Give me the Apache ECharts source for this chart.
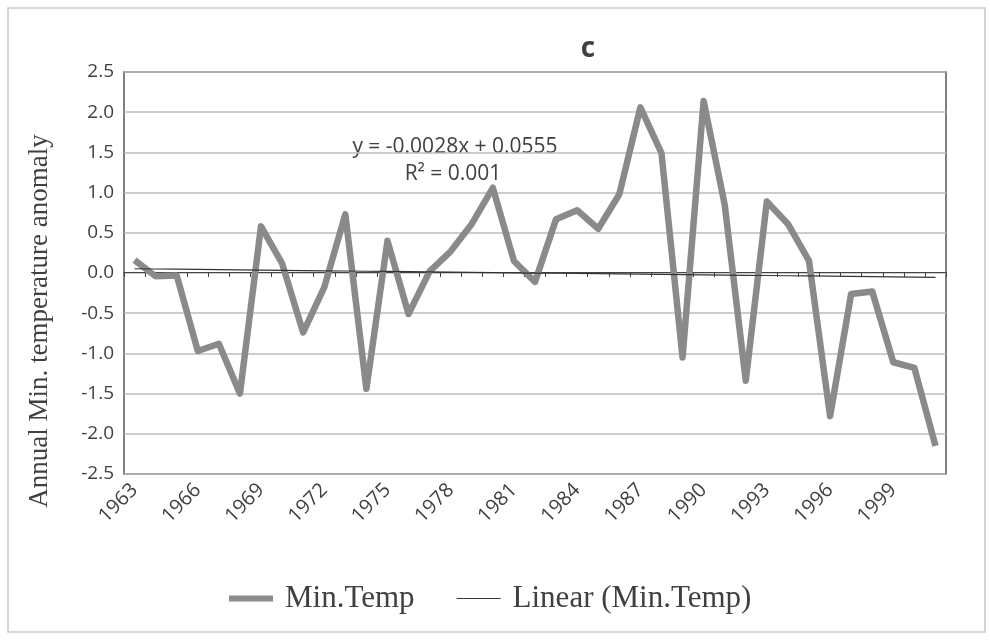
<!DOCTYPE html>
<html>
<head>
<meta charset="utf-8">
<script src="https://cdn.jsdelivr.net/npm/echarts@6/dist/echarts.min.js"></script>
<style>html,body{margin:0;padding:0;background:#fff;}#c{width:990px;height:640px;}</style>
</head>
<body>
<div id="c"></div>
<script>
const years = ['1963','1964','1965','1966','1967','1968','1969','1970','1971','1972','1973','1974','1975','1976','1977','1978','1979','1980','1981','1982','1983','1984','1985','1986','1987','1988','1989','1990','1991','1992','1993','1994','1995','1996','1997','1998','1999','2000','2001'];
const minTemp = [0.16,-0.04,-0.03,-0.97,-0.88,-1.50,0.58,0.12,-0.74,-0.18,0.73,-1.44,0.40,-0.51,0.02,0.27,0.61,1.06,0.15,-0.11,0.67,0.78,0.55,0.98,2.06,1.49,-1.05,2.14,0.85,-1.34,0.89,0.61,0.15,-1.78,-0.26,-0.23,-1.11,-1.18,-2.15];
const trendSlope = -0.0028;
const trendIntercept = 0.0555;
const trend = years.map((y, i) => +(trendSlope * (i + 1) + trendIntercept).toFixed(4));
const yTicks = { min: -2.5, max: 2.5, step: 0.5 };

const chart = echarts.init(document.getElementById('c'), null, { renderer: 'canvas' });
chart.setOption({
  backgroundColor: '#ffffff',
  animation: false,
  title: {
    text: 'c', left: 583, top: 30, textAlign: 'center',
    textStyle: { fontFamily: 'Open Sans', fontWeight: 'bold', fontSize: 28, color: '#404040' }
  },
  graphic: [
    { type: 'rect', shape: { x: 8, y: 8, width: 977, height: 624 }, style: { fill: 'none', stroke: '#c8c8c8', lineWidth: 1.5 }, silent: true },
    { type: 'text', style: { text: 'y = -0.0028x + 0.0555', x: 455, y: 147, textAlign: 'center', textVerticalAlign: 'middle', fill: '#404040', font: '21px "Open Sans"' } },
    { type: 'text', style: { text: 'R\u00B2 = 0.001', x: 453, y: 174, textAlign: 'center', textVerticalAlign: 'middle', fill: '#404040', font: '21px "Open Sans"' } },
    { type: 'text', x: 40, y: 321, rotation: Math.PI / 2, style: { text: 'Annual Min. temperature anomaly', x: 0, y: 0, textAlign: 'center', textVerticalAlign: 'middle', fill: '#404040', font: '27px "Liberation Serif"' } }
  ],
  grid: { left: 124, right: 44, top: 72, bottom: 166, show: true, borderColor: '#555', borderWidth: 1.5, backgroundColor: 'transparent' },
  legend: {
    top: 578, left: 224, itemGap: 42, itemWidth: 44, itemHeight: 14,
    textStyle: { fontFamily: 'Liberation Serif', fontSize: 31, color: '#404040', padding: [0, 0, 0, 7] },
    data: [
      { name: 'Min.Temp', icon: 'path://M0,4 L44,4 L44,10 L0,10 Z', itemStyle: { color: '#8c8c8c' } },
      { name: 'Linear (Min.Temp)', icon: 'path://M0,6.4 L44,6.4 L44,7.6 L0,7.6 Z', itemStyle: { color: '#333' } }
    ]
  },
  xAxis: [
    {
      type: 'category', data: years, position: 'bottom', boundaryGap: true,
      axisLine: { show: false, onZero: false }, axisTick: { show: false },
      axisLabel: { interval: 2, rotate: 45, fontFamily: 'Open Sans', fontSize: 20, color: '#404040', margin: 13 },
      splitLine: { show: false }
    },
    {
      type: 'category', data: years, position: 'bottom', offset: -202, boundaryGap: true,
      axisLine: { show: true, onZero: false, lineStyle: { color: '#444', width: 1 } },
      axisTick: { show: true, interval: 0, length: 5, lineStyle: { color: '#444', width: 1 } },
      axisLabel: { show: false }, splitLine: { show: false }
    }
  ],
  yAxis: {
    type: 'value', min: yTicks.min, max: yTicks.max, interval: yTicks.step,
    axisLine: { show: false }, axisTick: { show: false },
    axisLabel: { fontFamily: 'Open Sans', fontSize: 19, color: '#404040', margin: 10, formatter: v => v.toFixed(1) },
    splitLine: { lineStyle: { color: '#bdbdbd', width: 1.5 } }
  },
  series: [
    {
      name: 'Min.Temp', type: 'line', data: minTemp, xAxisIndex: 0, showSymbol: false, symbol: 'none',
      lineStyle: { color: '#8a8a8a', width: 6.5, join: 'round' }, itemStyle: { color: '#8a8a8a' }, z: 3
    },
    {
      name: 'Linear (Min.Temp)', type: 'line', data: trend, xAxisIndex: 0, showSymbol: false, symbol: 'none',
      lineStyle: { color: '#333', width: 1.2 }, itemStyle: { color: '#333' }, z: 4
    }
  ]
});
</script>
</body>
</html>
